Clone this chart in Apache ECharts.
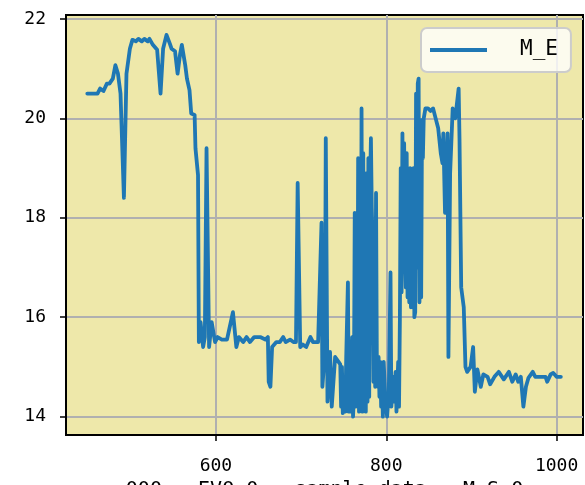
<!DOCTYPE html>
<html><head><meta charset="utf-8">
<script src="https://cdn.jsdelivr.net/npm/echarts@6/dist/echarts.min.js"></script>
<style>html,body{margin:0;padding:0;background:#fff}#c{width:585px;height:485px}</style>
</head><body><div id="c"></div>
<script>
const seriesName = 'M_E';
const xAxisTitle = '000 - EVO_0 - sample data - M_S_0';
const xTicks = [600, 800, 1000];
const yTicks = [14, 16, 18, 20, 22];
const xValues = [449,461,464,468,472,475,479,482,485,488,492,495,499,502,506,509,513,516,520,522,526,531,535,538,542,546,548,552,555,558,560,564,566,569,571,575,576,579,580,582,585,587,589,592,595,599,602,607,613,620,624,627,632,636,640,645,648,652,658,661,662,664,666,671,675,679,682,687,691,694,696,699,702,706,711,714,720,724,725,728,729,731,734,736,740,744,746,747,748,749,751,752,753,755,756,757,758,760,761,762,763,764,765,766,767,768,769,770,771,772,773,774,775,776,777,778,779,780,781,782,783,784,785,786,787,788,789,790,791,792,793,794,795,796,797,799,801,803,805,806,808,809,811,812,814,815,816,817,818,819,820,821,822,823,824,825,826,827,828,829,830,831,832,833,834,835,836,837,838,839,840,841,842,843,844,846,849,852,855,858,861,864,866,867,869,872,873,875,878,881,885,886,888,891,893,895,899,902,904,907,911,914,919,922,927,932,938,944,948,952,955,958,961,964,967,972,975,981,987,989,993,996,1000,1005];
const meValues = [20.5,20.5,20.6,20.55,20.7,20.7,20.8,21.07,20.9,20.5,18.4,20.9,21.4,21.58,21.55,21.6,21.55,21.6,21.55,21.6,21.48,21.38,20.5,21.4,21.68,21.5,21.4,21.35,20.9,21.3,21.48,21.07,20.8,20.57,20.1,20.07,19.4,18.86,15.5,15.9,15.4,15.6,19.4,15.4,15.9,15.5,15.6,15.55,15.55,16.1,15.4,15.6,15.5,15.6,15.5,15.6,15.6,15.6,15.55,15.6,14.7,14.6,15.4,15.5,15.5,15.6,15.5,15.55,15.5,15.5,18.7,15.4,15.45,15.4,15.6,15.5,15.5,17.9,14.6,15.3,19.6,14.3,15.3,14.2,15.2,15.1,15.05,14.2,15.0,14.07,14.6,14.1,15.2,16.7,14.1,15.0,14.1,15.6,14.0,14.4,18.1,14.2,17.5,14.3,19.2,14.1,19.0,14.2,20.2,14.1,19.3,14.5,18.7,14.1,18.9,14.3,19.2,14.4,18.6,19.6,18.2,17.5,14.7,17.9,14.6,18.5,15.0,14.6,15.2,14.4,15.1,14.2,14.9,14.0,15.1,14.3,14.0,14.5,16.9,14.2,14.8,14.3,14.9,14.1,15.1,14.2,15.95,19.0,16.5,19.7,17.0,19.5,17.3,16.6,19.3,16.4,18.8,16.3,19.0,16.2,18.5,16.2,19.0,16.0,16.1,20.5,17.0,20.7,20.8,16.3,18.0,16.4,19.97,19.2,20.0,20.2,20.2,20.15,20.2,20.0,19.8,19.3,19.1,19.7,18.1,19.7,15.2,18.9,20.2,20.0,20.6,19.6,16.6,16.2,15.0,14.9,15.0,15.4,14.5,14.95,14.6,14.85,14.8,14.65,14.8,14.9,14.75,14.9,14.7,14.85,14.7,14.8,14.2,14.6,14.78,14.9,14.8,14.8,14.8,14.7,14.85,14.88,14.8,14.8];

const chart = echarts.init(document.getElementById('c'), null, {renderer: 'canvas'});
const tickFont = 'DejaVu Sans Mono';
chart.setOption({
  animation: false,
  backgroundColor: '#ffffff',
  grid: {left: 66, right: 2, top: 15, bottom: 50, show: true, backgroundColor: '#eee8aa', borderColor: '#000', borderWidth: 2, containLabel: false, outerBoundsMode: 'none'},
  legend: {
    data: [seriesName], left: 421, top: 28, orient: 'vertical',
    icon: 'rect', itemWidth: 57, itemHeight: 4,
    padding: [11, 13, 11, 9],
    backgroundColor: 'rgba(255,255,255,0.8)', borderColor: '#cccccc', borderWidth: 2, borderRadius: 6,
    textStyle: {fontFamily: tickFont, fontSize: 21, color: '#000', padding: [0, 0, 0, 28], lineHeight: 22}
  },
  xAxis: {
    type: 'value', min: 424, max: 1031,
    name: xAxisTitle, nameLocation: 'middle', nameGap: 41,
    nameTextStyle: {fontFamily: tickFont, fontSize: 20, color: '#000'},
    axisLine: {show: true, onZero: false, lineStyle: {color: '#000', width: 2}},
    axisTick: {show: true, inside: false, length: 6, customValues: xTicks, lineStyle: {color: '#000', width: 1.5}},
    axisLabel: {customValues: xTicks, margin: 22, fontFamily: tickFont, fontSize: 18, color: '#000', formatter: v => String(v)},
    splitLine: {show: true, lineStyle: {color: '#b0b0b0', width: 2}}
  },
  yAxis: {
    type: 'value', min: 13.63, max: 22.08,
    axisLine: {show: true, onZero: false, lineStyle: {color: '#000', width: 2}},
    axisTick: {show: true, inside: false, length: 6, customValues: yTicks, lineStyle: {color: '#000', width: 1.5}},
    axisLabel: {customValues: yTicks, margin: 20, fontFamily: tickFont, fontSize: 18, color: '#000', formatter: v => String(v)},
    splitLine: {show: true, lineStyle: {color: '#b0b0b0', width: 2}}
  },
  series: [{
    name: seriesName, type: 'line', showSymbol: false, symbol: 'none',
    data: xValues.map((x, i) => [x, meValues[i]]),
    lineStyle: {color: '#1f77b4', width: 3.8, join: 'round', cap: 'round'},
    itemStyle: {color: '#1f77b4'}, clip: true
  }]
});
</script></body></html>
